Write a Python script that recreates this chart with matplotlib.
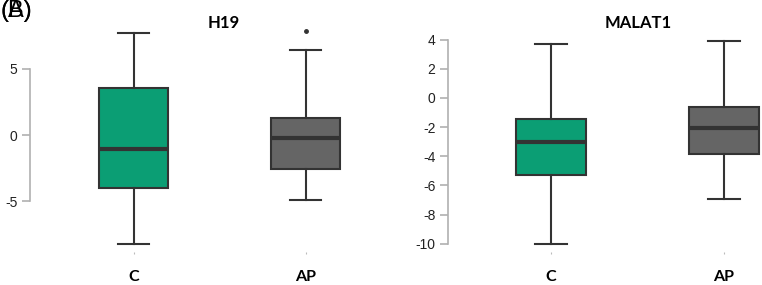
import matplotlib.pyplot as plt

# Groups and box statistics
groups = ['C', 'AP']

h19_med = [-1.05, -0.23]
h19_q1 = [-3.97, -2.54]
h19_q3 = [3.58, 1.26]
h19_lo = [-8.2, -4.87]
h19_hi = [7.72, 6.38]
h19_out = [[], [7.83]]
h19_ticks = [-5, 0, 5]

malat_med = [-3.0, -2.06]
malat_q1 = [-5.3, -3.82]
malat_q3 = [-1.42, -0.6]
malat_lo = [-10.0, -6.9]
malat_hi = [3.7, 3.9]
malat_out = [[], []]
malat_ticks = [-10, -8, -6, -4, -2, 0, 2, 4]

fill_colors = ['#0b9e74', '#656565']
edge = '#333333'

W, H = 762, 285
fig = plt.figure(figsize=(W / 100, H / 100), dpi=100)
plt.rcParams['font.family'] = ['Liberation Sans', 'DejaVu Sans']


def px_axes(x0, x1, y0, y1):
    return fig.add_axes([x0 / W, 1 - y1 / H, (x1 - x0) / W, (y1 - y0) / H])


def draw(ax, med, q1, q3, lo, hi, out, ticks, xlim, ylim):
    stats = []
    for i in range(len(groups)):
        stats.append({'med': med[i], 'q1': q1[i], 'q3': q3[i],
                      'whislo': lo[i], 'whishi': hi[i], 'fliers': out[i]})
    parts = ax.bxp(stats, positions=[1, 2], widths=0.4, capwidths=0.18,
                   patch_artist=True,
                   boxprops=dict(edgecolor=edge, linewidth=1.5),
                   medianprops=dict(color=edge, linewidth=3, solid_capstyle='butt'),
                   whiskerprops=dict(color=edge, linewidth=1.5),
                   capprops=dict(color=edge, linewidth=1.5),
                   flierprops=dict(marker='o', markersize=2.5, markerfacecolor=edge,
                                   markeredgecolor=edge))
    for box, c in zip(parts['boxes'], fill_colors):
        box.set_facecolor(c)

    ax.set_xlim(*xlim)
    ax.set_ylim(*ylim)
    for s in ['top', 'right', 'bottom']:
        ax.spines[s].set_visible(False)
    ax.spines['left'].set_color('#b0b0b0')
    ax.spines['left'].set_linewidth(1.2)
    ax.spines['left'].set_bounds(ticks[0], ticks[-1])
    ax.set_yticks(ticks)
    ax.set_yticklabels([str(t) for t in ticks])
    ax.tick_params(axis='y', length=5.5, width=1.2, color='#b0b0b0',
                   labelsize=10, labelcolor='#222222', pad=3.5)
    ax.set_xticks([1, 2])
    ax.set_xticklabels(groups, fontweight='bold', fontsize=11.5,
                       family=['Lato', 'DejaVu Sans'])
    ax.tick_params(axis='x', length=1.2, width=0.8, color='#bbbbbb', pad=12,
                   labelcolor='black')
    ax.patch.set_alpha(0)


ax1 = px_axes(30, 380, 22.6, 252)
draw(ax1, h19_med, h19_q1, h19_q3, h19_lo, h19_hi, h19_out, h19_ticks,
     (0.397, 2.432), (-8.81, 8.47))

ax2 = px_axes(448, 762, 22.6, 252)
draw(ax2, malat_med, malat_q1, malat_q3, malat_lo, malat_hi, malat_out, malat_ticks,
     (0.405, 2.22), (-10.57, 5.17))

title_font = dict(fontweight='bold', fontsize=12, family=['Lato', 'DejaVu Sans'],
                  ha='center', va='center')
fig.text(224 / W, 1 - 23 / H, 'H19', **title_font)
fig.text(638 / W, 1 - 23 / H, 'MALAT1', **title_font)

# panel letter, (A) printed over (B) as in the source figure
fig.text(0, 1 - 11 / H, '(A)', fontsize=17, ha='left', va='center')
fig.text(0, 1 - 11 / H, '(B)', fontsize=17, ha='left', va='center')

fig.savefig('out.png', dpi=100)
